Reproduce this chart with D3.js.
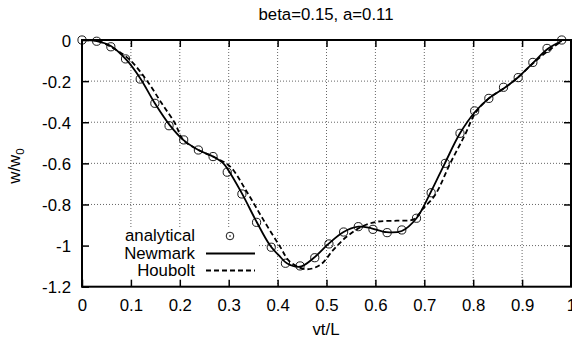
<!DOCTYPE html>
<html>
<head>
<meta charset="utf-8">
<script src="https://cdn.jsdelivr.net/npm/d3@7"></script>
<style>
  body { margin: 0; background: #fff; }
  svg { display: block; }
  text { font-family: "Liberation Sans", Arial, Helvetica, sans-serif; fill: #000; }
</style>
</head>
<body>
<svg id="chart" width="572" height="339"></svg>
<script>
// Axis ticks
const xTicks = [0, 0.1, 0.2, 0.3, 0.4, 0.5, 0.6, 0.7, 0.8, 0.9, 1];
const xTickLabels = ["0", "0.1", "0.2", "0.3", "0.4", "0.5", "0.6", "0.7", "0.8", "0.9", "1"];
const yTicks = [0, -0.2, -0.4, -0.6, -0.8, -1, -1.2];
const yTickLabels = ["0", "-0.2", "-0.4", "-0.6", "-0.8", "-1", "-1.2"];

// Analytical solution (sampled points)
const analyticalX = [0, 0.030, 0.059, 0.089, 0.119, 0.149, 0.178, 0.208, 0.238, 0.268,
  0.297, 0.327, 0.357, 0.387, 0.416, 0.446, 0.476, 0.505, 0.535, 0.565,
  0.595, 0.624, 0.654, 0.684, 0.714, 0.743, 0.773, 0.803, 0.832, 0.862,
  0.892, 0.922, 0.951, 0.981];
const analyticalY = [0, -0.006, -0.033, -0.092, -0.190, -0.308, -0.417, -0.486, -0.535, -0.567,
  -0.643, -0.749, -0.887, -1.008, -1.086, -1.099, -1.059, -0.992, -0.934, -0.908,
  -0.921, -0.937, -0.924, -0.867, -0.743, -0.600, -0.454, -0.345, -0.284, -0.230,
  -0.183, -0.109, -0.041, 0];

// Newmark integration
const newmarkX = [0, 0.030, 0.059, 0.091, 0.119, 0.149, 0.179, 0.207, 0.238, 0.269,
  0.289, 0.299, 0.327, 0.357, 0.384, 0.405, 0.419, 0.446, 0.473, 0.504,
  0.534, 0.565, 0.592, 0.623, 0.654, 0.684, 0.712, 0.742, 0.773, 0.804,
  0.832, 0.863, 0.892, 0.923, 0.952, 0.981];
const newmarkY = [0, -0.005, -0.029, -0.097, -0.186, -0.308, -0.413, -0.486, -0.535, -0.568,
  -0.600, -0.632, -0.746, -0.884, -0.997, -1.054, -1.086, -1.103, -1.062, -0.992,
  -0.935, -0.908, -0.916, -0.935, -0.929, -0.867, -0.746, -0.600, -0.454, -0.349,
  -0.284, -0.235, -0.181, -0.110, -0.044, -0.005];

// Houbolt integration
const houboltX = [0, 0.030, 0.064, 0.098, 0.132, 0.163, 0.190, 0.207, 0.238, 0.269,
  0.303, 0.337, 0.371, 0.405, 0.425, 0.458, 0.487, 0.514, 0.541, 0.572,
  0.603, 0.644, 0.678, 0.698, 0.722, 0.753, 0.783, 0.804, 0.832, 0.863,
  0.892, 0.923, 0.951, 0.981];
const houboltY = [0, -0.003, -0.040, -0.097, -0.195, -0.308, -0.405, -0.486, -0.535, -0.568,
  -0.616, -0.738, -0.875, -1.005, -1.078, -1.115, -1.094, -1.021, -0.957, -0.908,
  -0.884, -0.879, -0.872, -0.819, -0.754, -0.600, -0.462, -0.357, -0.284, -0.235,
  -0.181, -0.112, -0.057, -0.005];

const svg = d3.select("#chart");
const plotLeft = 82, plotRight = 571, plotTop = 40, plotBottom = 286.7;
const fontSize = 16.8;

const x = d3.scaleLinear().domain([0, 1]).range([plotLeft, plotRight]);
const y = d3.scaleLinear().domain([-1.2, 0]).range([plotBottom, plotTop]);

// Dotted grid
const grid = svg.append("g")
  .attr("stroke", "#666").attr("stroke-width", 1).attr("stroke-dasharray", "1,2");
xTicks.slice(1, -1).forEach(t => {
  grid.append("line").attr("x1", x(t)).attr("x2", x(t)).attr("y1", plotTop).attr("y2", plotBottom);
});
yTicks.slice(1, -1).forEach(t => {
  grid.append("line").attr("x1", plotLeft).attr("x2", plotRight).attr("y1", y(t)).attr("y2", y(t));
});

// Opaque key area
svg.append("rect").attr("x", plotLeft + 1).attr("y", 228).attr("width", 258 - plotLeft - 1)
  .attr("height", plotBottom - 228).attr("fill", "#fff");

// Curves
const line = (xs, ys) => d3.line()
  .x((d, i) => x(xs[i])).y((d, i) => y(ys[i]))
  .curve(d3.curveCatmullRom.alpha(0.5))(xs);

svg.append("path").attr("d", line(newmarkX, newmarkY))
  .attr("fill", "none").attr("stroke", "#000").attr("stroke-width", 1.8);
svg.append("path").attr("d", line(houboltX, houboltY))
  .attr("fill", "none").attr("stroke", "#000").attr("stroke-width", 1.8)
  .attr("stroke-dasharray", "5,3");

// Analytical points
const pts = svg.append("g");
analyticalX.forEach((v, i) => {
  pts.append("circle").attr("cx", x(v)).attr("cy", y(analyticalY[i])).attr("r", 4.1)
    .attr("fill", "none").attr("stroke", "#000").attr("stroke-width", 0.9);
});

// Border and ticks
svg.append("rect").attr("x", plotLeft).attr("y", plotTop)
  .attr("width", plotRight - plotLeft).attr("height", plotBottom - plotTop)
  .attr("fill", "none").attr("stroke", "#000").attr("stroke-width", 2);

const xAxisB = d3.axisBottom(x).tickValues(xTicks).tickFormat((d, i) => xTickLabels[i])
  .tickSizeInner(-7).tickSizeOuter(0);
const gx = svg.append("g").attr("transform", `translate(0,${plotBottom})`).call(xAxisB);
gx.select(".domain").remove();
gx.selectAll("line").attr("stroke", "#000").attr("stroke-width", 1.5);
gx.selectAll("text").attr("font-size", fontSize).attr("font-family", "Liberation Sans, Arial, sans-serif")
  .attr("dy", null).attr("y", 24);

const xAxisT = d3.axisTop(x).tickValues(xTicks.slice(1, -1)).tickFormat("")
  .tickSizeInner(-7).tickSizeOuter(0);
const gxt = svg.append("g").attr("transform", `translate(0,${plotTop})`).call(xAxisT);
gxt.select(".domain").remove();
gxt.selectAll("line").attr("stroke", "#000").attr("stroke-width", 1.5);

const yAxisL = d3.axisLeft(y).tickValues(yTicks).tickFormat((d, i) => yTickLabels[i])
  .tickSizeInner(-7).tickSizeOuter(0);
const gy = svg.append("g").attr("transform", `translate(${plotLeft},0)`).call(yAxisL);
gy.select(".domain").remove();
gy.selectAll("line").attr("stroke", "#000").attr("stroke-width", 1.5);
gy.selectAll("text").attr("font-size", fontSize).attr("font-family", "Liberation Sans, Arial, sans-serif")
  .attr("x", -11).attr("dy", "0.37em");

const yAxisR = d3.axisRight(y).tickValues(yTicks.slice(1, -1)).tickFormat("")
  .tickSizeInner(-7).tickSizeOuter(0);
const gyr = svg.append("g").attr("transform", `translate(${plotRight},0)`).call(yAxisR);
gyr.select(".domain").remove();
gyr.selectAll("line").attr("stroke", "#000").attr("stroke-width", 1.5);

// Title and axis labels
svg.append("text").attr("x", 326).attr("y", 20).attr("text-anchor", "middle")
  .attr("font-size", fontSize).text("beta=0.15, a=0.11");
svg.append("text").attr("x", 326).attr("y", 334.5).attr("text-anchor", "middle")
  .attr("font-size", fontSize).text("vt/L");
const yl = svg.append("text").attr("transform", "translate(20,166) rotate(-90)")
  .attr("text-anchor", "middle").attr("font-size", fontSize);
yl.append("tspan").text("w/w");
yl.append("tspan").attr("font-size", 11.5).attr("dy", 4).text("0");

// Legend
const legend = svg.append("g").attr("font-size", fontSize).attr("text-anchor", "end");
legend.append("text").attr("x", 195).attr("y", 241).text("analytical");
legend.append("text").attr("x", 195).attr("y", 258.5).text("Newmark");
legend.append("text").attr("x", 195).attr("y", 276).text("Houbolt");
legend.append("circle").attr("cx", 230).attr("cy", 236).attr("r", 3.8)
  .attr("fill", "none").attr("stroke", "#000").attr("stroke-width", 0.9);
legend.append("circle").attr("cx", 230).attr("cy", 236).attr("r", 0.8).attr("fill", "#000");
legend.append("line").attr("x1", 206).attr("x2", 255).attr("y1", 253.5).attr("y2", 253.5)
  .attr("stroke", "#000").attr("stroke-width", 1.8);
legend.append("line").attr("x1", 206).attr("x2", 255).attr("y1", 270.5).attr("y2", 270.5)
  .attr("stroke", "#000").attr("stroke-width", 1.8).attr("stroke-dasharray", "5,3");
</script>
</body>
</html>
